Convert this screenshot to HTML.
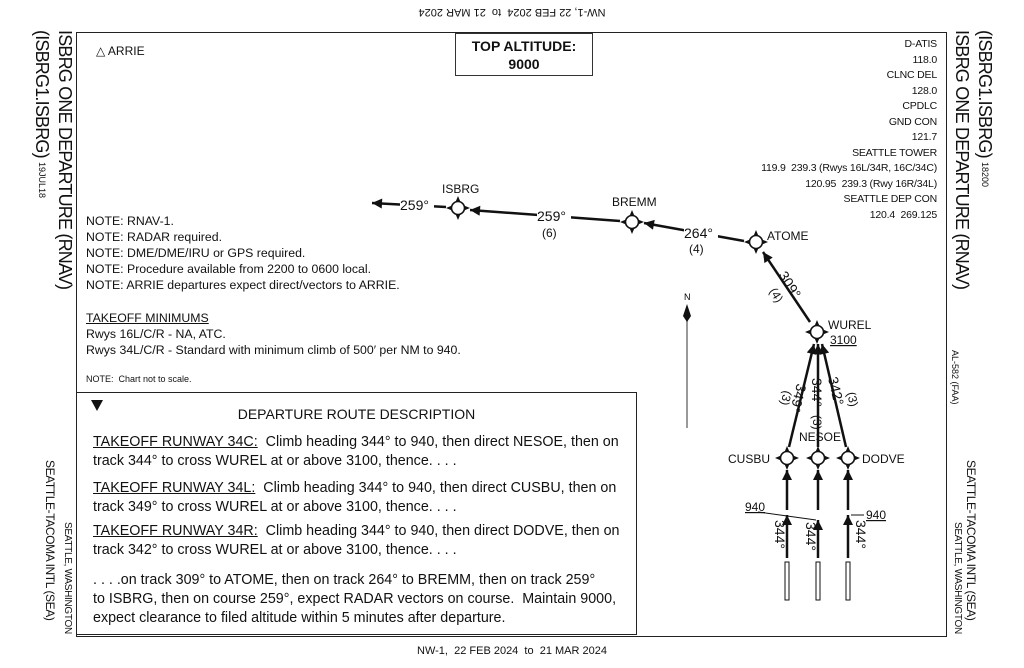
<!DOCTYPE html>
<html><head><meta charset="utf-8"><style>
body{margin:0;width:1024px;height:668px;background:#fff;position:relative;overflow:hidden;font-family:"Liberation Sans",sans-serif;color:#111}
.a{position:absolute;white-space:nowrap}
.v{position:absolute;writing-mode:vertical-rl;white-space:nowrap}
.u{text-decoration:underline}
</style></head><body>
<div class="a" style="left:0;width:1024px;top:6px;text-align:center;font-size:11px;transform:rotate(180deg)">NW-1, 22 FEB 2024 &nbsp;to&nbsp; 21 MAR 2024</div>
<div class="a" style="left:0;width:1024px;top:645px;text-align:center;font-size:11px">NW-1, &nbsp;22 FEB 2024 &nbsp;to&nbsp; 21 MAR 2024</div>

<div class="a" style="left:76px;top:32px;width:869px;height:603px;border:1.5px solid #222"></div>
<div class="a" style="left:455px;top:33px;width:138px;height:43px;border:1.5px solid #333;text-align:center;font-weight:bold;font-size:14px;line-height:18px;padding-top:3px;box-sizing:border-box">TOP ALTITUDE:<br>9000</div>
<div class="a" style="left:96px;top:44px;font-size:12px">&#9651; ARRIE</div>

<div class="a" style="left:745px;width:192px;top:37px;text-align:right;font-size:10.5px;line-height:15.5px;letter-spacing:-0.2px">D-ATIS<br>118.0<br>CLNC DEL<br>128.0<br>CPDLC<br>GND CON<br>121.7<br>SEATTLE TOWER<br><span style="margin-left:-80px">119.9 &nbsp;239.3 (Rwys 16L/34R, 16C/34C)</span><br>120.95 &nbsp;239.3 (Rwy 16R/34L)<br>SEATTLE DEP CON<br>120.4 &nbsp;269.125</div>

<div class="a" style="left:86px;top:213px;font-size:12.3px;line-height:16px">NOTE: RNAV-1.<br>NOTE: RADAR required.<br>NOTE: DME/DME/IRU or GPS required.<br>NOTE: Procedure available from 2200 to 0600 local.<br>NOTE: ARRIE departures expect direct/vectors to ARRIE.</div>
<div class="a" style="left:86px;top:310px;font-size:12.3px;line-height:16px"><span class="u">TAKEOFF MINIMUMS</span><br>Rwys 16L/C/R - NA, ATC.<br>Rwys 34L/C/R - Standard with minimum climb of 500′ per NM to 940.</div>
<div class="a" style="left:86px;top:374px;font-size:9px">NOTE: &nbsp;Chart not to scale.</div>

<div class="a" style="left:76px;top:392px;width:561px;height:243px;border:1.5px solid #222;box-sizing:border-box"></div>
<div class="a" style="left:91px;top:400px;width:0;height:0;border-left:6px solid transparent;border-right:6px solid transparent;border-top:11px solid #111"></div>
<div class="a" style="left:76px;width:561px;top:406px;text-align:center;font-size:14px">DEPARTURE ROUTE DESCRIPTION</div>
<div class="a" style="left:93px;top:433px;font-size:14.3px;line-height:19px"><span class="u">TAKEOFF RUNWAY 34C:</span>&nbsp; Climb heading 344° to 940, then direct NESOE, then on<br>track 344° to cross WUREL at or above 3100, thence. . . .</div>
<div class="a" style="left:93px;top:479px;font-size:14.3px;line-height:19px"><span class="u">TAKEOFF RUNWAY 34L:</span>&nbsp; Climb heading 344° to 940, then direct CUSBU, then on<br>track 349° to cross WUREL at or above 3100, thence. . . .</div>
<div class="a" style="left:93px;top:522px;font-size:14.3px;line-height:19px"><span class="u">TAKEOFF RUNWAY 34R:</span>&nbsp; Climb heading 344° to 940, then direct DODVE, then on<br>track 342° to cross WUREL at or above 3100, thence. . . .</div>
<div class="a" style="left:93px;top:571px;font-size:14.3px;line-height:19px">. . . .on track 309° to ATOME, then on track 264° to BREMM, then on track 259°<br>to ISBRG, then on course 259°, expect RADAR vectors on course.&nbsp; Maintain 9000,<br>expect clearance to filed altitude within 5 minutes after departure.</div>

<div class="v" style="left:30px;top:30px;font-size:18px;line-height:23px;letter-spacing:-0.8px">ISBRG ONE DEPARTURE (RNAV)<br>(ISBRG1.ISBRG) <span style="font-size:9px;letter-spacing:0">19JUL18</span></div>
<div class="v" style="left:42px;top:460px;font-size:12px;line-height:16px;letter-spacing:-0.4px">SEATTLE-TACOMA INTL (SEA)</div>
<div class="v" style="left:61px;top:522px;font-size:10px;line-height:13px;letter-spacing:-0.3px">SEATTLE, WASHINGTON</div>

<div class="v" style="left:950px;top:30px;font-size:18px;line-height:23px;letter-spacing:-0.8px">(ISBRG1.ISBRG) <span style="font-size:9px;letter-spacing:0">18200</span><br>ISBRG ONE DEPARTURE (RNAV)</div>
<div class="v" style="left:950px;top:350px;font-size:9px">AL-582 (FAA)</div>
<div class="v" style="left:963px;top:460px;font-size:12px;line-height:16px;letter-spacing:-0.4px">SEATTLE-TACOMA INTL (SEA)</div>
<div class="v" style="left:951px;top:522px;font-size:10px;line-height:13px;letter-spacing:-0.3px">SEATTLE, WASHINGTON</div>

<svg class="a" style="left:0;top:0" width="1024" height="668" viewBox="0 0 1024 668">
<defs>
<marker id="ah" viewBox="0 0 10 10" refX="10" refY="5" markerWidth="5" markerHeight="4" orient="auto" markerUnits="strokeWidth"><path d="M0,0L10,5L0,10z" fill="#111"/></marker>
<g id="wp"><path d="M0,-12L-2.5,-6L2.5,-6zM0,12L-2.5,6L2.5,6zM-12,0L-6,-2.5L-6,2.5zM12,0L6,-2.5L6,2.5z" fill="#111"/><circle r="6.5" fill="#fff" stroke="#111" stroke-width="1.6"/></g>
</defs>
<g stroke="#111" stroke-width="2.5" fill="none">
<line x1="446" y1="207" x2="372" y2="203" marker-end="url(#ah)"/>
<line x1="620" y1="221" x2="470" y2="210" marker-end="url(#ah)"/>
<line x1="744" y1="241" x2="644" y2="223" marker-end="url(#ah)"/>
<line x1="810" y1="322" x2="763" y2="252" marker-end="url(#ah)"/>
<line x1="789" y1="447" x2="814" y2="344" marker-end="url(#ah)"/>
<line x1="818" y1="447" x2="818" y2="344" marker-end="url(#ah)"/>
<line x1="846" y1="447" x2="822" y2="344" marker-end="url(#ah)"/>
<line x1="787" y1="510" x2="787" y2="470" marker-end="url(#ah)"/>
<line x1="818" y1="510" x2="818" y2="470" marker-end="url(#ah)"/>
<line x1="848" y1="510" x2="848" y2="470" marker-end="url(#ah)"/>
<line x1="787" y1="558" x2="787" y2="515" marker-end="url(#ah)"/>
<line x1="818" y1="558" x2="818" y2="520" marker-end="url(#ah)"/>
<line x1="848" y1="558" x2="848" y2="515" marker-end="url(#ah)"/>
</g>
<g fill="#fff" stroke="#111" stroke-width="1"><rect x="785" y="562" width="4" height="38"/><rect x="816" y="562" width="4" height="38"/><rect x="846" y="562" width="4" height="38"/></g>
<use href="#wp" x="458" y="208"/><use href="#wp" x="632" y="222"/><use href="#wp" x="756" y="242"/><use href="#wp" x="817" y="332"/>
<use href="#wp" x="787" y="458"/><use href="#wp" x="818" y="458"/><use href="#wp" x="848" y="458"/>
<line x1="687" y1="318" x2="687" y2="428" stroke="#777" stroke-width="1.5"/>
<path d="M687,304L683,316L687,322L691,316z" fill="#111"/>
<text x="684" y="300" font-size="9" font-family="Liberation Sans">N</text>
<line x1="758" y1="512" x2="816" y2="520" stroke="#111" stroke-width="1"/>
<line x1="864" y1="515" x2="851" y2="515" stroke="#111" stroke-width="1"/>
<g font-family="Liberation Sans" fill="#111" font-size="12">
<text x="442" y="193">ISBRG</text><text x="612" y="206">BREMM</text><text x="767" y="240">ATOME</text>
<text x="828" y="329">WUREL</text><text x="830" y="344" text-decoration="underline">3100</text>
<text x="728" y="463">CUSBU</text><text x="799" y="441">NESOE</text><text x="862" y="463">DODVE</text>
<text x="745" y="511" text-decoration="underline">940</text><text x="866" y="519" text-decoration="underline">940</text>
</g>
<g font-family="Liberation Sans" fill="#111" font-size="14">
<rect x="400" y="196" width="34" height="16" fill="#fff"/><text x="400" y="210">259°</text>
<rect x="537" y="208" width="34" height="16" fill="#fff"/><text x="537" y="221">259°</text><text x="542" y="237" font-size="12">(6)</text>
<rect x="684" y="225" width="34" height="16" fill="#fff"/><text x="684" y="238">264°</text><text x="689" y="253" font-size="12">(4)</text>
<text transform="translate(778,275) rotate(58)">309°</text><text transform="translate(769,291) rotate(58)" font-size="12">(4)</text>
<text transform="translate(797,383) rotate(104)">349°</text><text transform="translate(784,390) rotate(104)" font-size="12">(3)</text>
<text transform="translate(812,378) rotate(90)">344°</text><text transform="translate(813,415) rotate(90)" font-size="12">(3)</text>
<text transform="translate(828,378) rotate(77)">342°</text><text transform="translate(847,393) rotate(77)" font-size="12">(3)</text>
<text transform="translate(775,520) rotate(90)">344°</text>
<text transform="translate(806,522) rotate(90)">344°</text>
<text transform="translate(856,520) rotate(90)">344°</text>
</g>
</svg>
</body></html>
